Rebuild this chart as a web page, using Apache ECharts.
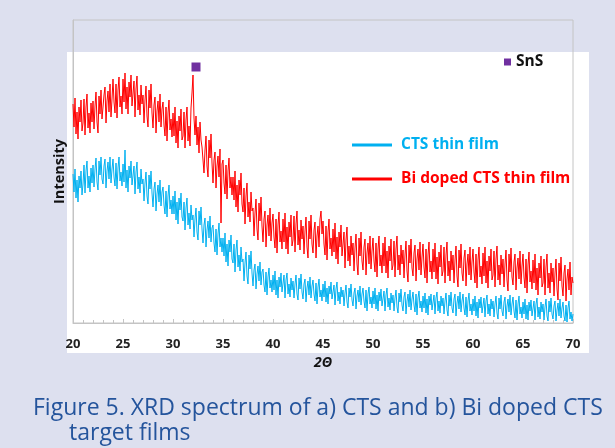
<!DOCTYPE html>
<html>
<head>
<meta charset="utf-8">
<script src="https://cdn.jsdelivr.net/npm/echarts@6/dist/echarts.min.js"></script>
<style>
  html, body { margin: 0; padding: 0; background: #dde0ef; }
  #chart { width: 615px; height: 448px; }
</style>
</head>
<body>
<div id="chart"></div>
<script>
// 2θ scan: 20° .. 70°, one reading every 0.1°
const angleStart = 20;
const angleStep = 0.1;

// Bi doped CTS thin film (arbitrary units, one row per degree)
const biDoped = [
  219,196,225,189,211,184,216,201,223,192,
  200,224,188,216,229,195,210,190,220,201,
  222,194,217,231,201,190,227,209,233,204,
  205,228,236,200,222,232,211,239,206,224,
  244,221,210,239,205,233,246,216,227,209,
  244,221,250,214,236,209,241,226,248,217,
  218,242,206,234,247,213,228,208,238,219,
  228,200,223,237,207,196,233,215,239,210,
  195,218,226,190,212,222,201,229,196,214,
  221,198,187,216,182,210,223,193,204,186,
  210,187,216,180,202,175,207,192,214,183,
  187,211,175,203,216,182,197,177,215,230,
  248,205,188,207,178,196,170,201,183,176,
  178,150,173,187,157,146,183,165,189,160,
  140,163,171,135,157,167,146,174,100,159,
  163,140,129,158,124,152,165,135,146,128,
  146,123,152,116,138,111,143,128,150,119,
  111,135,99,127,140,106,121,101,131,112,
  115,87,110,124,94,83,120,102,126,97,
  81,104,112,76,98,108,87,115,82,100,
  109,86,75,104,70,98,111,81,92,74,
  104,81,110,74,96,69,101,86,108,77,
  83,107,71,99,112,78,93,73,103,84,
  97,69,92,106,76,65,102,84,108,79,
  70,93,101,65,87,97,76,104,112,89,
  102,79,68,97,63,91,104,74,85,67,
  94,71,100,64,86,59,91,76,98,67,
  67,91,55,83,96,62,77,57,87,68,
  80,52,75,89,59,48,85,67,91,62,
  53,76,84,48,70,80,59,87,54,72,
  85,62,51,80,46,74,87,57,68,50,
  80,57,86,50,72,45,77,62,84,53,
  58,82,46,74,87,53,68,48,78,59,
  73,45,68,82,52,41,78,60,84,55,
  47,70,78,42,64,74,53,81,48,66,
  79,56,45,74,40,68,81,51,62,44,
  74,51,80,44,66,39,71,56,78,47,
  52,76,40,68,81,47,62,42,72,53,
  68,40,63,77,47,36,73,55,79,50,
  42,65,73,37,59,69,48,76,43,61,
  74,51,40,69,35,63,76,46,57,39,
  70,47,76,40,62,35,67,52,74,43,
  48,72,36,64,77,43,58,38,68,49,
  64,36,59,73,43,32,69,51,75,46,
  38,61,69,33,55,65,44,72,39,57,
  69,46,35,64,30,58,71,41,52,34,
  63,40,69,33,55,28,60,45,67,36,
  40,64,28,56,69,35,50,30,60,41,
  55,27,50,64,34,23,60,42,66,37,
  27,50,58,22,44,54,33,61,28,46,
  40
];

// CTS thin film
const cts = [
  149,131,154,125,143,121,147,135,152,128,
  139,158,130,152,162,135,147,131,155,140,
  158,136,154,165,141,133,162,148,166,144,
  139,157,164,135,152,161,144,166,140,154,
  164,146,137,160,134,155,166,142,151,137,
  159,141,173,135,153,131,157,145,162,138,
  138,157,129,151,161,134,146,130,154,139,
  144,122,140,151,127,119,148,134,152,130,
  116,134,141,112,129,138,121,143,117,131,
  136,118,109,132,106,127,138,114,123,109,
  127,109,132,103,121,99,125,113,130,106,
  102,121,93,115,125,98,110,94,118,103,
  108,86,104,115,91,83,112,98,116,94,
  80,98,105,76,93,102,85,107,81,95,
  98,80,71,94,68,89,100,76,85,71,
  85,67,90,61,79,57,83,71,88,64,
  60,79,51,73,83,56,68,52,76,61,
  64,42,60,71,47,39,68,54,72,50,
  37,53,59,34,49,57,42,61,38,51,
  54,38,31,51,28,46,55,35,43,31,
  48,33,52,28,43,25,46,36,50,31,
  32,48,25,43,50,29,39,26,45,33,
  42,25,39,48,29,23,45,34,49,31,
  24,39,44,21,35,42,28,46,25,37,
  43,29,22,40,19,36,44,26,33,22,
  39,26,42,21,35,19,37,29,41,24,
  25,38,18,34,41,22,31,19,36,26,
  33,17,30,38,21,15,35,26,39,23,
  17,30,35,14,27,33,21,37,18,29,
  35,22,15,33,12,29,36,19,26,15,
  32,19,35,14,28,12,31,22,34,17,
  19,32,12,28,35,16,25,13,30,20,
  28,12,25,33,16,10,30,21,34,18,
  12,26,31,9,22,29,16,33,13,24,
  31,18,11,29,8,25,32,15,22,11,
  27,15,30,10,24,8,27,18,29,13,
  15,28,9,25,31,12,22,10,27,17,
  25,9,22,30,13,7,28,17,31,15,
  10,24,29,7,20,27,14,31,11,22,
  29,15,8,26,6,22,30,12,19,8,
  24,12,27,7,21,5,24,15,26,10,
  12,25,6,22,28,9,19,7,24,14,
  22,6,19,27,10,4,25,14,28,12,
  7,21,26,4,17,24,11,28,8,19,
  26,12,5,23,3,19,27,9,16,5,
  21,9,24,4,18,3,21,12,23,7,
  9,22,3,19,25,6,16,4,21,11,
  19,3,16,24,7,2,22,11,25,9,
  4,17,22,2,13,20,7,24,5,15,
  21,7,2,18,1,15,22,4,11,2,
  9
];

// SnS reflection marker
const snsPeak = [[32.3, 256]];

const xTicks = { min: 20, max: 70, interval: 5 };

function pairs(values) {
    return values.map((v, i) => [+(angleStart + i * angleStep).toFixed(1), v]);
}

const FONT = '"Open Sans", "Liberation Sans", sans-serif';
const CAPTION = '#24549c';

const chart = echarts.init(document.getElementById('chart'));

const option = {
    backgroundColor: '#dde0ef',
    animation: false,
    graphic: [
        {
            type: 'rect',
            z: -10,
            shape: { x: 67, y: 52, width: 522, height: 301 },
            style: { fill: '#ffffff' }
        },
        {
            type: 'text',
            x: 33,
            y: 408,
            style: {
                text: 'Figure 5. XRD spectrum of a) CTS and b) Bi doped CTS',
                font: '23px ' + FONT,
                fill: CAPTION,
                verticalAlign: 'middle'
            }
        },
        {
            type: 'text',
            x: 69,
            y: 433,
            style: {
                text: 'target films',
                font: '23px ' + FONT,
                fill: CAPTION,
                verticalAlign: 'middle'
            }
        }
    ],
    grid: {
        left: 73,
        right: 42,
        top: 20,
        bottom: 125,
        show: true,
        borderColor: '#c4c4c4',
        borderWidth: 1,
        backgroundColor: 'transparent'
    },
    legend: [
        {
            data: ['SnS'],
            left: 504,
            top: 54,
            padding: 0,
            icon: 'rect',
            itemWidth: 7,
            itemHeight: 7,
            textStyle: { fontFamily: FONT, fontWeight: 'bold', fontSize: 15.5, color: '#111' }
        },
        {
            data: [
                { name: 'CTS thin film', textStyle: { color: '#00b0f0' } },
                { name: 'Bi doped CTS thin film', textStyle: { color: '#ff0000' } }
            ],
            orient: 'vertical',
            left: 352,
            top: 137,
            padding: 0,
            icon: 'rect',
            itemWidth: 40,
            itemHeight: 3,
            itemGap: 18,
            textStyle: { fontFamily: FONT, fontWeight: 'bold', fontSize: 15.5, padding: [0, 0, 0, 4] }
        }
    ],
    xAxis: {
        type: 'value',
        min: xTicks.min,
        max: xTicks.max,
        interval: xTicks.interval,
        name: '2Θ',
        nameLocation: 'middle',
        nameGap: 32,
        nameTextStyle: { fontFamily: FONT, fontWeight: 'bold', fontStyle: 'italic', fontSize: 14, color: '#111' },
        axisLine: { lineStyle: { color: '#c4c4c4' } },
        axisTick: { inside: true, length: 4, lineStyle: { color: '#c4c4c4' } },
        minorTick: { show: true, splitNumber: 5, length: 3, lineStyle: { color: '#c4c4c4' } },
        axisLabel: { fontFamily: FONT, fontWeight: 'bold', fontSize: 13, color: '#222', margin: 15 },
        splitLine: { show: false }
    },
    yAxis: {
        type: 'value',
        min: 0,
        max: 303,
        name: 'Intensity',
        nameLocation: 'middle',
        nameGap: 6,
        nameRotate: 90,
        nameTextStyle: { fontFamily: FONT, fontWeight: 'bold', fontSize: 14.5, color: '#111' },
        axisLine: { show: true, lineStyle: { color: '#c4c4c4' } },
        axisTick: { show: false },
        axisLabel: { show: false },
        splitLine: { show: false }
    },
    series: [
        {
            name: 'CTS thin film',
            type: 'line',
            data: pairs(cts),
            showSymbol: false,
            symbol: 'none',
            color: '#00b0f0',
            lineStyle: { width: 1, color: '#00b0f0' }
        },
        {
            name: 'Bi doped CTS thin film',
            type: 'line',
            data: pairs(biDoped),
            showSymbol: false,
            symbol: 'none',
            color: '#ff0000',
            lineStyle: { width: 1, color: '#ff0000' }
        },
        {
            name: 'SnS',
            type: 'scatter',
            data: snsPeak,
            symbol: 'rect',
            symbolSize: 9,
            color: '#7030a0',
            itemStyle: { color: '#7030a0', opacity: 1 }
        }
    ]
};

chart.setOption(option);
</script>
</body>
</html>
